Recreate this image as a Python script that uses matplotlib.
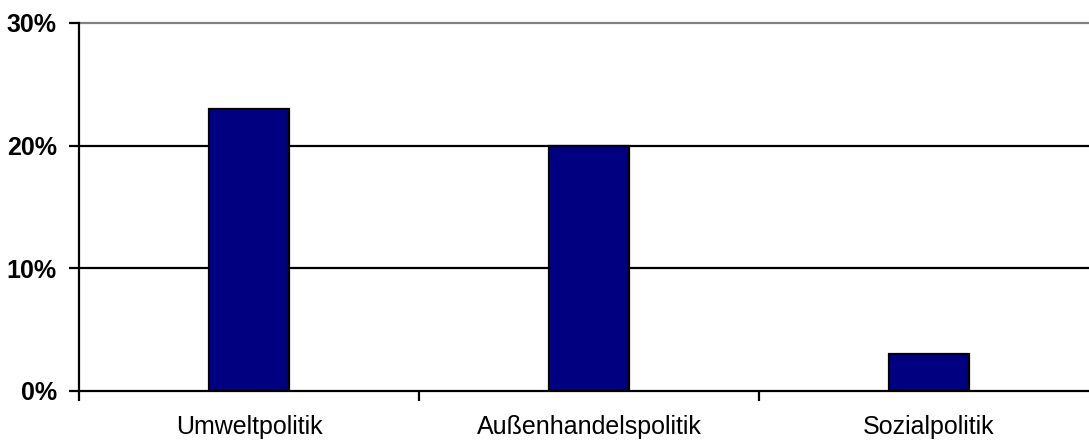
import matplotlib
matplotlib.use("Agg")
import matplotlib.pyplot as plt
from matplotlib.ticker import FixedLocator

# Data
categories = ["Umweltpolitik", "Außenhandelspolitik", "Sozialpolitik"]
shares = [23, 20, 3]            # percent
y_ticks = [0, 10, 20, 30]
y_labels = ["0%", "10%", "20%", "30%"]

plt.rcParams["font.family"] = ["Liberation Sans", "DejaVu Sans"]

fig = plt.figure(figsize=(10.89, 4.42), dpi=100)
# plot area runs a bit past the right edge, as in the original
ax = fig.add_axes([79 / 1089, 1 - 391 / 442, 1020 / 1089, 368 / 442])

x = range(len(categories))
ax.bar(x, shares, width=0.235, color="#000080", edgecolor="black",
       linewidth=1.6, zorder=3)

ax.set_xlim(-0.5, len(categories) - 0.5)
ax.set_ylim(0, 30)

# gridlines: black, top one grey
for v in y_ticks[1:-1]:
    ax.axhline(v, color="black", linewidth=1.6, zorder=1)
ax.axhline(30, color="#808080", linewidth=1.6, zorder=1, clip_on=False)

for side in ["top", "right"]:
    ax.spines[side].set_visible(False)
ax.spines["left"].set_linewidth(1.6)
ax.spines["bottom"].set_linewidth(1.6)
ax.spines["bottom"].set_zorder(4)

ax.set_yticks(y_ticks)
ax.set_yticklabels(y_labels, fontsize=18, fontweight="bold")
ax.tick_params(axis="y", length=7, width=1.6, pad=9)

ax.set_xticks(list(x))
ax.set_xticklabels(categories, fontsize=18)
ax.tick_params(axis="x", which="major", length=0, pad=17)
ax.xaxis.set_minor_locator(FixedLocator([-0.5, 0.5, 1.5, 2.5]))
ax.tick_params(axis="x", which="minor", length=7, width=1.6)

plt.savefig("out.png", dpi=100)
plt.close()
